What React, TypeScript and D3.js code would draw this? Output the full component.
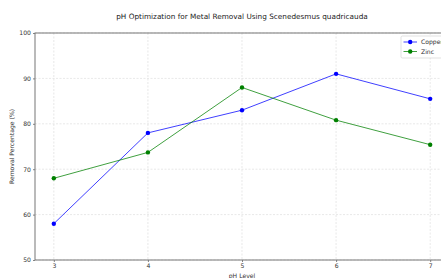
import React, { useEffect, useRef } from 'react';
import * as d3 from 'd3';

const phLevels = [3, 4, 5, 6, 7];
const copper = [58, 78, 83, 91, 85.5];
const zinc = [68, 73.7, 88, 80.8, 75.4];
const yTicks = [50, 60, 70, 80, 90, 100];

const seriesList = [
  { name: 'Copper', values: copper, color: '#0000ff' },
  { name: 'Zinc', values: zinc, color: '#008000' },
];

const width = 441;
const height = 278;
const margin = { top: 33, right: -8, bottom: 18, left: 35 };

const App = () => {
  const node = useRef<SVGSVGElement | null>(null);

  useEffect(() => {
    document.body.style.margin = '0';
    const svg = d3.select(node.current);
    svg.selectAll('*').remove();

    const fig_w = width - margin.left - margin.right;
    const fig_h = height - margin.top - margin.bottom;
    const font = 'DejaVu Sans, sans-serif';

    const x = d3.scaleLinear().domain([2.8, 7.2]).range([0, fig_w]);
    const y = d3.scaleLinear().domain([50, 100]).range([fig_h, 0]);

    const fig = svg.append('g').attr('transform', `translate(${margin.left},${margin.top})`);

    // grid
    fig.selectAll('.gx').data(phLevels).enter().append('line')
      .attr('x1', (d) => x(d)).attr('x2', (d) => x(d))
      .attr('y1', 0).attr('y2', fig_h)
      .attr('stroke', '#d9d9d9').attr('stroke-width', 0.6).attr('stroke-dasharray', '2,1.5');
    fig.selectAll('.gy').data(yTicks).enter().append('line')
      .attr('x1', 0).attr('x2', fig_w)
      .attr('y1', (d) => y(d)).attr('y2', (d) => y(d))
      .attr('stroke', '#d9d9d9').attr('stroke-width', 0.6).attr('stroke-dasharray', '2,1.5');

    // axes
    const xAxis = d3.axisBottom(x).tickValues(phLevels).tickSize(2).tickPadding(2).tickFormat(d3.format('d'));
    const yAxis = d3.axisLeft(y).tickValues(yTicks).tickSize(2).tickPadding(2).tickFormat(d3.format('d'));
    const gx = fig.append('g').attr('transform', `translate(0,${fig_h})`).call(xAxis);
    const gy = fig.append('g').call(yAxis);
    [gx, gy].forEach((g) => {
      g.select('.domain').remove();
      g.selectAll('.tick line').attr('stroke', '#333').attr('stroke-width', 0.6);
      g.selectAll('.tick text').attr('font-family', font).attr('font-size', 6.1).attr('fill', '#333');
    });

    // spines
    fig.append('rect')
      .attr('x', 0).attr('y', 0).attr('width', fig_w).attr('height', fig_h)
      .attr('fill', 'none').attr('stroke', '#777').attr('stroke-width', 1);

    // lines
    const line = d3.line<number>()
      .x((_, i) => x(phLevels[i]))
      .y((d) => y(d));

    seriesList.forEach((s) => {
      fig.append('path')
        .attr('d', line(s.values))
        .attr('fill', 'none')
        .attr('stroke', s.color)
        .attr('stroke-width', 1)
        .attr('opacity', 0.75);
      fig.selectAll(null).data(s.values).enter().append('circle')
        .attr('cx', (_, i) => x(phLevels[i]))
        .attr('cy', (d) => y(d))
        .attr('r', 2.2)
        .attr('fill', s.color);
    });

    // legend
    const lx = 401 - margin.left;
    const ly = 36 - margin.top;
    const leg = fig.append('g').attr('transform', `translate(${lx},${ly})`);
    leg.append('rect')
      .attr('x', 0).attr('y', 0).attr('width', 60).attr('height', 22).attr('rx', 1.5)
      .attr('fill', 'white').attr('fill-opacity', 0.85)
      .attr('stroke', '#ccc').attr('stroke-width', 0.6);
    seriesList.forEach((s, i) => {
      const cy = 6 + i * 9.5;
      leg.append('line')
        .attr('x1', 2.5).attr('x2', 16).attr('y1', cy).attr('y2', cy)
        .attr('stroke', s.color).attr('stroke-width', 1).attr('opacity', 0.75);
      leg.append('circle').attr('cx', 9.2).attr('cy', cy).attr('r', 2.2).attr('fill', s.color);
      leg.append('text')
        .attr('x', 20).attr('y', cy + 2.2)
        .attr('font-family', font).attr('font-size', 6.1).attr('fill', '#333')
        .text(s.name);
    });

    // title and labels
    svg.append('text')
      .attr('x', margin.left + fig_w / 2).attr('y', 19)
      .attr('text-anchor', 'middle')
      .attr('font-family', font).attr('font-size', 7.3).attr('fill', '#222')
      .text('pH Optimization for Metal Removal Using Scenedesmus quadricauda');
    svg.append('text')
      .attr('x', margin.left + fig_w / 2).attr('y', 278)
      .attr('text-anchor', 'middle')
      .attr('font-family', font).attr('font-size', 6.1).attr('fill', '#333')
      .text('pH Level');
    svg.append('text')
      .attr('transform', `translate(14,${margin.top + fig_h / 2}) rotate(-90)`)
      .attr('text-anchor', 'middle')
      .attr('font-family', font).attr('font-size', 6.1).attr('fill', '#333')
      .text('Removal Percentage (%)');
  }, []);

  return <svg ref={node} width={width} height={height} style={{ display: 'block' }}></svg>;
};

export default App;
